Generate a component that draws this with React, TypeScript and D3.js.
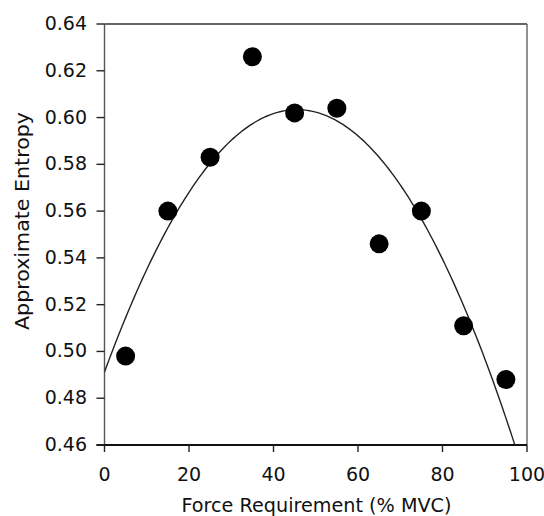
import React from "react";
import * as d3 from "d3";

const forceLevels = [5, 15, 25, 35, 45, 55, 65, 75, 85, 95];
const entropyValues = [0.498, 0.56, 0.583, 0.626, 0.602, 0.604, 0.546, 0.56, 0.511, 0.488];
const xTicks = [0, 20, 40, 60, 80, 100];
const yTicks = [0.46, 0.48, 0.5, 0.52, 0.54, 0.56, 0.58, 0.6, 0.62, 0.64];
const xTitle = "Force Requirement (% MVC)";
const yTitle = "Approximate Entropy";

// least-squares quadratic fit of the data
function quadFit(xs: number[], ys: number[]) {
  const n = xs.length;
  let s0 = n, s1 = 0, s2 = 0, s3 = 0, s4 = 0, t0 = 0, t1 = 0, t2 = 0;
  xs.forEach((x, i) => {
    const y = ys[i];
    s1 += x; s2 += x * x; s3 += x ** 3; s4 += x ** 4;
    t0 += y; t1 += x * y; t2 += x * x * y;
  });
  const M = [
    [s0, s1, s2, t0],
    [s1, s2, s3, t1],
    [s2, s3, s4, t2],
  ];
  for (let i = 0; i < 3; i++) {
    for (let k = i + 1; k < 3; k++) {
      const f = M[k][i] / M[i][i];
      for (let j = i; j < 4; j++) M[k][j] -= f * M[i][j];
    }
  }
  const c = [0, 0, 0];
  for (let i = 2; i >= 0; i--) {
    let s = M[i][3];
    for (let j = i + 1; j < 3; j++) s -= M[i][j] * c[j];
    c[i] = s / M[i][i];
  }
  return (x: number) => c[0] + c[1] * x + c[2] * x * x;
}

export default function App() {
  const W = 544, H = 516;
  const left = 104.5, right = 527, top = 24, bottom = 445;
  const x = d3.scaleLinear().domain([0, 100]).range([left, right]);
  const y = d3.scaleLinear().domain([0.46, 0.64]).range([bottom, top]);
  const fit = quadFit(forceLevels, entropyValues);
  const samples = d3.range(0, 100.01, 0.5).map((v) => [v, fit(v)] as [number, number]);
  const line = d3
    .line<[number, number]>()
    .x((d) => x(d[0]))
    .y((d) => y(d[1]));
  const font = "'DejaVu Sans', sans-serif";

  return (
    <svg
      width={W}
      height={H}
      style={{ position: "absolute", left: 0, top: 0, background: "#fff" }}
    >
      <defs>
        <clipPath id="plot">
          <rect x={left} y={top} width={right - left} height={bottom - top} />
        </clipPath>
      </defs>
      <rect width={W} height={H} fill="#fff" />
      {/* frame */}
      <line x1={left} y1={top} x2={right} y2={top} stroke="#333" strokeWidth={1.6} />
      <line x1={right} y1={top} x2={right} y2={bottom} stroke="#555" strokeWidth={1.3} />
      <line x1={left} y1={top} x2={left} y2={bottom} stroke="#555" strokeWidth={1.4} />
      <line x1={left - 8} y1={bottom} x2={right} y2={bottom} stroke="#111" strokeWidth={2} />
      {/* y ticks */}
      {yTicks.map((t) => (
        <g key={"y" + t}>
          <line x1={left - 8} x2={left} y1={y(t)} y2={y(t)} stroke="#222" strokeWidth={1.4} />
          <text
            x={87}
            y={y(t) + 6}
            textAnchor="end"
            fontFamily={font}
            fontSize={19}
            fill="#111"
          >
            {t.toFixed(2)}
          </text>
        </g>
      ))}
      {/* x ticks */}
      {xTicks.map((t) => (
        <g key={"x" + t}>
          <line x1={x(t)} x2={x(t)} y1={bottom} y2={bottom + 7} stroke="#222" strokeWidth={1.4} />
          <text
            x={x(t)}
            y={481}
            textAnchor="middle"
            fontFamily={font}
            fontSize={19}
            fill="#111"
          >
            {t}
          </text>
        </g>
      ))}
      {/* fit curve */}
      <path
        d={line(samples) || ""}
        fill="none"
        stroke="#222"
        strokeWidth={1.4}
        clipPath="url(#plot)"
      />
      {/* points */}
      {forceLevels.map((f, i) => (
        <circle key={f} cx={x(f)} cy={y(entropyValues[i])} r={9.5} fill="#000" />
      ))}
      {/* titles */}
      <text
        x={316.5}
        y={512}
        textAnchor="middle"
        fontFamily={font}
        fontSize={19}
        fill="#111"
        textLength={270}
        lengthAdjust="spacingAndGlyphs"
      >
        {xTitle}
      </text>
      <text
        transform={`translate(29,221) rotate(-90)`}
        textAnchor="middle"
        fontFamily={font}
        fontSize={19}
        fill="#111"
        textLength={218}
        lengthAdjust="spacingAndGlyphs"
      >
        {yTitle}
      </text>
    </svg>
  );
}
